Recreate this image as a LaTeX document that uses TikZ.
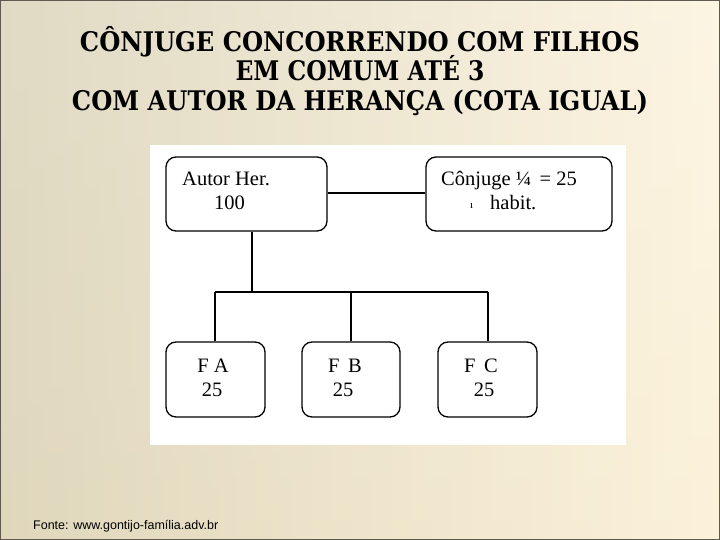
\documentclass[tikz,border=0pt]{standalone}
\usepackage{graphicx}
\usepackage{fontspec}
\setmainfont{Liberation Serif}
\newfontfamily\titlefont{DejaVu Serif}
\newfontfamily\footfont{Liberation Sans}
\definecolor{bgdark}{RGB}{214,206,178}
\definecolor{bglight}{RGB}{252,242,218}
\definecolor{edgegrey}{RGB}{95,90,80}
\newcommand{\ttl}[2]{\resizebox{#1}{\height}{#2}}
\begin{document}
\begin{tikzpicture}[x=1pt,y=-1pt,
  box/.style={draw=black,line width=1.3pt,rounded corners=10pt,fill=white,inner sep=0pt},
  lbl/.style={inner sep=0pt,anchor=base west,font=\fontsize{20.5}{20.5}\selectfont},
  clbl/.style={inner sep=0pt,anchor=base,font=\fontsize{20.5}{20.5}\selectfont},
  conn/.style={line width=1.3pt,black},
  titl/.style={inner sep=0pt,anchor=base,font=\titlefont\bfseries\fontsize{27}{27}\selectfont}]
\useasboundingbox (0,0) rectangle (720,540);
\shade[left color=bgdark,right color=bglight] (0,0) rectangle (720,540);
\shade[top color=white,bottom color=bglight,opacity=0.25] (0,0) rectangle (720,540);
\draw[edgegrey,line width=2pt] (0,0) rectangle (720,540);
% white panel
\fill[white] (150,145) rectangle (626,445);
% title
\node[titl] (t1) at (360,52) {\ttl{560pt}{CÔNJUGE CONCORRENDO COM FILHOS}};
\node[titl] (t2) at (360,81) {\ttl{249pt}{EM COMUM ATÉ 3}};
\node[titl] (t3) at (360,111) {\ttl{576pt}{COM AUTOR DA HERANÇA (COTA IGUAL)}};
% boxes
\node[box,minimum width=161pt,minimum height=74pt] (autor) at (246.5,194) {};
\node[box,minimum width=186pt,minimum height=74pt] (conj) at (519,194) {};
\node[box,minimum width=99pt,minimum height=75pt] (fa) at (215.5,379.5) {};
\node[box,minimum width=98pt,minimum height=75pt] (fb) at (351,379.5) {};
\node[box,minimum width=99pt,minimum height=75pt] (fc) at (487.5,379.5) {};
% labels
\node[lbl] (a1) at (182,186) {Autor Her.};
\node[lbl] (a2) at (214,210) {100};
\node[lbl] (c1) at (441,186) {Cônjuge ¼ \,= 25};
\node[lbl,font=\fontsize{11}{11}\selectfont] (c0) at (470,209) {ı};
\node[lbl] (c2) at (490,210) {habit.};
\node[clbl] (fa1) at (213,372) {F A};
\node[clbl] (fa2) at (212,396) {25};
\node[clbl] (fb1) at (345,372) {F\, B};
\node[clbl] (fb2) at (343,396) {25};
\node[clbl] (fc1) at (481,372) {F\, C};
\node[clbl] (fc2) at (484,396) {25};
% connectors
\coordinate (j) at (252,292);
\coordinate (jl) at (215,292);
\coordinate (jm) at (351,292);
\coordinate (jr) at (488,292);
\draw[conn] (autor.east |- 0,193) -- (conj.west |- 0,193);
\draw[conn] (autor.south -| j) -- (j);
\draw[conn] (jl) -- (jr);
\draw[conn] (jl) -- (jl |- fa.north);
\draw[conn] (jm) -- (jm |- fb.north);
\draw[conn] (jr) -- (jr |- fc.north);
% footer
\node[inner sep=0pt,anchor=base west,font=\footfont\fontsize{12.5}{12.5}\selectfont] (foot) at (33,529) {Fonte: www.gontijo-família.adv.br};
\end{tikzpicture}
\end{document}
